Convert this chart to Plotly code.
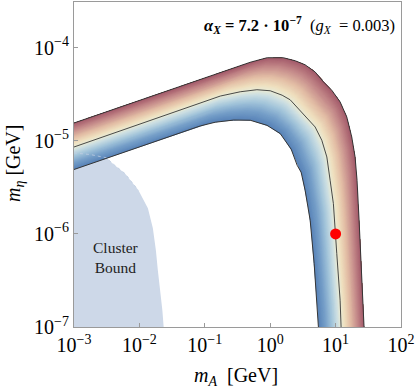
import numpy as np
import plotly.graph_objects as go

# ---------------- data (log10 of GeV values) ----------------
upper_log_mA = [-3.000, -2.034, -1.069, -0.305, -0.046, 0.198, 0.382, 0.534, 0.687, 0.814,
                0.942, 1.069, 1.171, 1.247, 1.298, 1.328, 1.359, 1.400, 1.435]
upper_log_meta = [-4.809, -4.576, -4.343, -4.157, -4.108, -4.108, -4.141, -4.184, -4.261, -4.368,
                  -4.458, -4.583, -4.744, -4.959, -5.174, -5.424, -5.854, -6.391, -7.000]

center_log_mA = [-3.000, -2.034, -1.069, -0.763, -0.458, -0.203, 0.000, 0.183, 0.305, 0.504,
                 0.687, 0.789, 0.866, 0.916, 0.966, 1.018, 1.069, 1.084]
center_log_meta = [-5.067, -4.828, -4.590, -4.520, -4.474, -4.452, -4.463, -4.511, -4.560, -4.715,
                   -4.852, -4.995, -5.174, -5.424, -5.675, -6.212, -6.713, -7.000]

lower_log_mA = [-3.000, -2.034, -1.069, -0.840, -0.560, -0.305, -0.050, 0.153, 0.321, 0.412,
                0.473, 0.534, 0.611, 0.672, 0.713, 0.737]
lower_log_meta = [-5.309, -5.075, -4.841, -4.801, -4.778, -4.780, -4.834, -4.923, -5.091, -5.263,
                  -5.338, -5.532, -5.854, -6.319, -6.713, -7.000]

cluster_log_mA = [-3.000, -3.000, -2.748, -2.504, -2.397, -2.221, -2.015, -1.870, -1.794, -1.748,
                  -1.718, -1.679, -1.649, -1.629, -3.000]
cluster_log_meta = [-7.000, -5.131, -5.148, -5.183, -5.252, -5.352, -5.532, -5.725, -5.940, -6.176,
                    -6.391, -6.606, -6.821, -7.000, -7.000]

benchmark_mA = [10.0]
benchmark_meta = [1.0e-6]

x_tickvals = [1e-3, 1e-2, 1e-1, 1e0, 1e1, 1e2]
x_ticktext = ["10<sup>−3</sup>", "10<sup>−2</sup>", "10<sup>−1</sup>", "10<sup>0</sup>",
              "10<sup>1</sup>", "10<sup>2</sup>"]
y_tickvals = [1e-7, 1e-6, 1e-5, 1e-4]
y_ticktext = ["10<sup>−7</sup>", "10<sup>−6</sup>", "10<sup>−5</sup>", "10<sup>−4</sup>"]

# colour map of the band: position 0 = lower edge, 1 = upper edge
band_stops = [0.00, 0.15, 0.30, 0.42, 0.50, 0.58, 0.70, 0.85, 1.00]
band_colors = ["#5782b7", "#759ec8", "#a2c4da", "#cbdee2", "#e9ebd6",
               "#efdfbe", "#e3bfa6", "#c68c8b", "#a35a6a"]

# ---------------- layout parameters ----------------
W, H = 417, 390
ML, MR, MT, MB = 74, 16, 2, 63
XR = [-3, 2]
YR = [-7, -3.51]
FONT = "Liberation Serif"
sx = (W - ML - MR) / (XR[1] - XR[0])
sy = (H - MT - MB) / (YR[1] - YR[0])


def resample(lx, ly, n=400):
    lx = np.asarray(lx, float)
    ly = np.asarray(ly, float)
    d = np.hypot(np.diff(lx) * sx, np.diff(ly) * sy)
    s = np.concatenate([[0.0], np.cumsum(d)])
    s /= s[-1]
    u = np.linspace(0, 1, n)
    return np.interp(u, s, lx), np.interp(u, s, ly)


def hex2rgb(h):
    h = h.lstrip("#")
    return np.array([int(h[i:i + 2], 16) for i in (0, 2, 4)], float)


rgb_stops = np.array([hex2rgb(c) for c in band_colors])


def band_color(t):
    r = np.interp(t, band_stops, rgb_stops[:, 0])
    g = np.interp(t, band_stops, rgb_stops[:, 1])
    b = np.interp(t, band_stops, rgb_stops[:, 2])
    return "rgb(%d,%d,%d)" % (round(r), round(g), round(b))


Lx, Ly = resample(lower_log_mA, lower_log_meta)
Cx, Cy = resample(center_log_mA, center_log_meta)
Ux, Uy = resample(upper_log_mA, upper_log_meta)


def curve_at(t):
    if t <= 0.5:
        a = t / 0.5
        return Lx + (Cx - Lx) * a, Ly + (Cy - Ly) * a
    a = (t - 0.5) / 0.5
    return Cx + (Ux - Cx) * a, Cy + (Uy - Cy) * a


fig = go.Figure()

# cluster bound region
fig.add_trace(go.Scatter(
    x=10 ** np.array(cluster_log_mA), y=10 ** np.array(cluster_log_meta),
    mode="lines", fill="toself", fillcolor="#cdd8e8", line=dict(width=0),
    hoverinfo="skip", showlegend=False))

# gradient band: cumulative strips from level t up to the upper edge
NSTRIP = 90
ts = np.linspace(0, 1, NSTRIP + 1)[:-1]
dt = 1.0 / NSTRIP
for t in ts:
    cx, cy = curve_at(t)
    px = np.concatenate([cx, Ux[::-1]])
    py = np.concatenate([cy, Uy[::-1]])
    fig.add_trace(go.Scatter(
        x=10 ** px, y=10 ** py, mode="lines", fill="toself",
        fillcolor=band_color(t + dt / 2), line=dict(width=0),
        hoverinfo="skip", showlegend=False))

# faint dotted edge of cluster region seen through the band
fig.add_trace(go.Scatter(
    x=10 ** np.array(cluster_log_mA[1:7]), y=10 ** np.array(cluster_log_meta[1:7]),
    mode="lines", line=dict(color="rgba(190,205,225,0.8)", width=1, dash="dot"),
    hoverinfo="skip", showlegend=False))

# outlines
for lx, ly, w in [(upper_log_mA, upper_log_meta, 1.0),
                  (lower_log_mA, lower_log_meta, 1.0),
                  (center_log_mA, center_log_meta, 0.9)]:
    fig.add_trace(go.Scatter(
        x=10 ** np.array(lx), y=10 ** np.array(ly), mode="lines",
        line=dict(color="#353535", width=w), hoverinfo="skip", showlegend=False))

# benchmark point
fig.add_trace(go.Scatter(
    x=benchmark_mA, y=benchmark_meta, mode="markers",
    marker=dict(color="#ff0000", size=11, line=dict(width=0)),
    hoverinfo="skip", showlegend=False))

axis_common = dict(
    type="log", automargin=False, showgrid=False, zeroline=False, showline=True, mirror=True,
    linecolor="#9a9a9a", linewidth=1, ticks="inside", ticklen=4, tickwidth=1,
    tickcolor="#9a9a9a", tickfont=dict(family=FONT, size=20, color="black"))

fig.update_layout(
    width=W, height=H,
    margin=dict(l=ML, r=MR, t=MT, b=MB, autoexpand=False),
    paper_bgcolor="white", plot_bgcolor="white",
    xaxis=dict(range=XR, tickvals=x_tickvals, ticktext=x_ticktext, **axis_common),
    yaxis=dict(range=YR, tickvals=y_tickvals, ticktext=y_ticktext, **axis_common),
    annotations=[
        dict(xref="paper", yref="paper", x=0.987, y=0.929, xanchor="right", yanchor="middle",
             showarrow=False,
             text="<b><i>α</i><sub><i>X</i></sub> = 7.2 · 10<sup>−7</sup></b>\u00a0\u00a0(<i>g</i><sub><i>X</i></sub>\u00a0\u00a0=\u00a00.003)",
             font=dict(family=FONT, size=16.5, color="black")),
        dict(x=-2.365, y=-6.251, xref="x", yref="y", showarrow=False,
             text="Cluster<br>Bound", font=dict(family=FONT, size=15.5, color="#222222")),
        dict(xref="paper", yref="paper", x=0.495, y=-0.153, xanchor="center", yanchor="middle",
             showarrow=False, text="<i>m</i><sub><i>A</i></sub>\u00a0\u00a0[GeV]",
             font=dict(family=FONT, size=20, color="black")),
        dict(xref="paper", yref="paper", x=-0.180, y=0.505, xanchor="center", yanchor="middle",
             showarrow=False, textangle=-90, text="<i>m</i><sub><i>η</i></sub> [GeV]",
             font=dict(family=FONT, size=20, color="black")),
    ],
)

fig.write_html("out.html", config={"displayModeBar": False},
               post_script="document.body.style.margin='0';document.body.style.overflow='hidden';")
